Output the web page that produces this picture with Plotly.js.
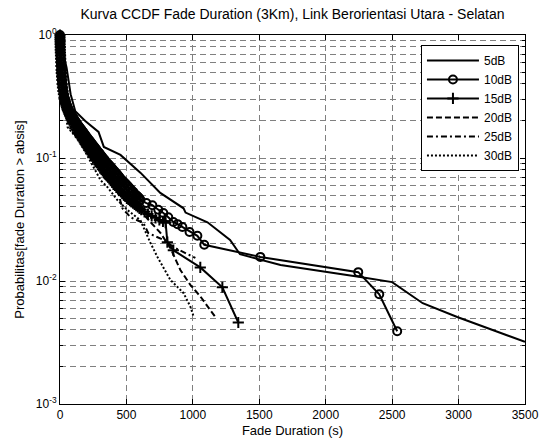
<!DOCTYPE html>
<html>
<head>
<meta charset="utf-8">
<script src="https://cdn.plot.ly/plotly-3.0.1.min.js"></script>
<style>html,body{margin:0;padding:0;background:#fff}#chart{width:540px;height:439px}</style>
</head>
<body>
<div id="chart"></div>
<script>
// ---- data ----
const seriesNames = ["5dB", "10dB", "15dB", "20dB", "25dB", "30dB"];

const x5  = [0, 5, 20, 50, 80, 115, 190, 290, 330, 455, 605, 755, 930, 945, 1110, 1185, 1280, 1355, 1660, 2260, 2500, 2730, 2990, 3500];
const y5  = [1, 0.9, 0.75, 0.54, 0.33, 0.24, 0.2, 0.163, 0.123, 0.106, 0.076, 0.052, 0.039, 0.036, 0.030, 0.026, 0.0216, 0.0165, 0.0135, 0.0108, 0.0098, 0.0066, 0.0051, 0.0032];

const x10 = [0,0,0,1,1,1,2,2,3,3, 4,5,5,6,7,8,9,10,11,12, 14,15,17,19,21,23,26,29,32,34, 36,38,40,42,45,47,50,53,56,59,
             62,66,70,74,78,82,86,90,95,100, 105,110,115,120,126,131,137,143,149,155, 161,167,174,180,187,193,200,207,214,221,
             228,235,242,249,257,264,272,279,287,295, 303,311,319,327,335,343,351,359,368,376, 385,393,402,411,420,429,438,447,456,465,
             475,484,494,503,513,522,532,542,552,562, 572,581,590,598,606,650,695,740,778,815, 853,885,921,975,1034,1086,1508,2245,2403,2538];
const y10 = [1,0.97,0.94,0.91,0.88,0.85,0.82,0.79,0.76,0.73, 0.70,0.67,0.64,0.61,0.58,0.55,0.52,0.50,0.48,0.46, 0.44,0.42,0.40,0.385,0.37,0.355,0.34,0.325,0.31,0.305,
             0.30,0.295,0.29,0.285,0.28,0.275,0.27,0.265,0.26,0.255, 0.25,0.245,0.24,0.236,0.232,0.228,0.224,0.22,0.216,0.212,
             0.208,0.204,0.2,0.196,0.192,0.188,0.184,0.18,0.177,0.173, 0.17,0.166,0.163,0.159,0.156,0.152,0.149,0.145,0.142,0.139,
             0.136,0.133,0.13,0.127,0.124,0.121,0.118,0.115,0.112,0.11, 0.107,0.104,0.102,0.099,0.097,0.094,0.092,0.09,0.088,0.086,
             0.084,0.082,0.08,0.078,0.076,0.074,0.072,0.07,0.068,0.066, 0.065,0.063,0.062,0.06,0.059,0.057,0.056,0.054,0.053,0.051,
             0.050,0.049,0.048,0.047,0.0455,0.043,0.0413,0.038,0.0357,0.033, 0.0302,0.029,0.0275,0.025,0.0233,0.0197,0.0157,0.0118,0.0078,0.0039];

const x15 = [0,0,0,1,1,2,2,3,4,5, 6,7,9,10,12,14,16,19,22,26, 30,32,35,37,40,43,46,49,53,56, 60,64,68,72,77,81,86,91,96,101,
             107,112,118,124,130,136,142,148,155,161, 168,175,182,189,196,203,211,218,226,234, 242,250,258,266,275,283,292,301,310,319,
             328,337,347,356,366,376,386,396,406,416, 427,437,448,459,470,481,492,503,515,526, 538,550,562,574,586,598,611,636,662,690,
             719,748,775,795,808,853,1056,1222,1342];
const y15 = [1,0.96,0.92,0.88,0.84,0.80,0.76,0.72,0.68,0.64, 0.60,0.56,0.52,0.49,0.46,0.43,0.40,0.375,0.35,0.33,
             0.31,0.302,0.295,0.288,0.28,0.273,0.266,0.259,0.252,0.246, 0.24,0.234,0.228,0.222,0.217,0.211,0.206,0.201,0.196,0.191,
             0.186,0.181,0.176,0.171,0.167,0.162,0.158,0.154,0.15,0.146, 0.142,0.138,0.134,0.13,0.127,0.123,0.12,0.116,0.113,0.11,
             0.107,0.104,0.101,0.098,0.095,0.092,0.089,0.086,0.084,0.081, 0.079,0.076,0.074,0.072,0.07,0.068,0.066,0.064,0.062,0.06,
             0.058,0.056,0.055,0.053,0.052,0.05,0.049,0.047,0.046,0.045, 0.044,0.043,0.042,0.041,0.040,0.039,0.038,0.0365,0.035,0.0338,
             0.0326,0.0314,0.0305,0.0298,0.0207,0.0178,0.0129,0.0089,0.0046];

const x20 = [0, 5, 15, 30, 60, 117, 229, 342, 455, 568, 680, 756, 831, 906, 981, 1056, 1169];
const y20 = [1, 0.8, 0.55, 0.38, 0.26, 0.176, 0.116, 0.077, 0.055, 0.0416, 0.0302, 0.0246, 0.0185, 0.0123, 0.0093, 0.0075, 0.0051];

const x25 = [0, 5, 15, 30, 50, 79, 177, 252, 327, 432, 470, 530, 628, 665, 778, 868, 1019];
const y25 = [1, 0.78, 0.52, 0.35, 0.24, 0.169, 0.133, 0.102, 0.07, 0.055, 0.039, 0.033, 0.0296, 0.0245, 0.0216, 0.0185, 0.0154];

const x30 = [0, 5, 15, 30, 45, 56, 154, 252, 305, 357, 432, 508, 605, 680, 733, 831, 929, 981, 1004];
const y30 = [1, 0.76, 0.5, 0.33, 0.22, 0.179, 0.133, 0.084, 0.066, 0.058, 0.0455, 0.0377, 0.0312, 0.0205, 0.0157, 0.0102, 0.008, 0.0062, 0.0052];

const yMajor = [0.001, 0.01, 0.1, 1];
const yMajorText = ["10<sup>-3</sup>", "10<sup>-2</sup>", "10<sup>-1</sup>", "10<sup>0</sup>"];
const yMinor = [0.002,0.003,0.004,0.005,0.006,0.007,0.008,0.009,0.02,0.03,0.04,0.05,0.06,0.07,0.08,0.09,0.2,0.3,0.4,0.5,0.6,0.7,0.8,0.9];
const xTicks = [0, 500, 1000, 1500, 2000, 2500, 3000, 3500];

// ---- traces ----
const lw = 2;
const traces = [
  {x: x5, y: y5, name: seriesNames[0], mode: "lines", line: {color: "#000", width: lw}},
  {x: x10, y: y10, name: seriesNames[1], mode: "lines+markers", cliponaxis: false, line: {color: "#000", width: lw},
   marker: {symbol: "circle-open", size: 8, color: "#000", line: {width: 2, color: "#000"}}},
  {x: x15, y: y15, name: seriesNames[2], mode: "lines+markers", cliponaxis: false, line: {color: "#000", width: lw},
   marker: {symbol: "cross-thin-open", size: 8, color: "#000", line: {width: 2, color: "#000"}}},
  {x: x20, y: y20, name: seriesNames[3], mode: "lines", line: {color: "#000", width: lw, dash: "6px,3px"}},
  {x: x25, y: y25, name: seriesNames[4], mode: "lines", line: {color: "#000", width: lw, dash: "6px,3px,2px,3px"}},
  {x: x30, y: y30, name: seriesNames[5], mode: "lines", line: {color: "#000", width: lw, dash: "2px,2px"}}
];

const fam = "Liberation Sans, Arial, sans-serif";
const tickFont = {family: fam, size: 12, color: "#000"};
const titleFont = {family: fam, size: 13, color: "#000"};
const gridColor = "#808080";

const layout = {
  width: 540, height: 439,
  margin: {l: 59.5, r: 15, t: 35, b: 35},
  paper_bgcolor: "#fff", plot_bgcolor: "#fff",
  font: tickFont,
  showlegend: true,
  title: {text: "Kurva CCDF Fade Duration (3Km), Link Berorientasi Utara - Selatan",
          font: {family: fam, size: 14, color: "#000"},
          x: 0.5, xref: "paper", y: 1 - 14/439, yref: "container", yanchor: "middle"},
  xaxis: {
    range: [0, 3500], tickvals: xTicks, ticktext: xTicks.map(String),
    showgrid: true, gridcolor: gridColor, gridwidth: 1, griddash: "6px,4px",
    zeroline: false, showline: true, linecolor: "#000", linewidth: 1, mirror: "ticks",
    ticks: "inside", ticklen: 5, tickcolor: "#000", tickfont: tickFont,
    title: {text: "Fade Duration (s)", font: titleFont, standoff: 4}, automargin: false
  },
  yaxis: {
    type: "log", range: [-3, 0], tickvals: yMajor, ticktext: yMajorText,
    showgrid: true, gridcolor: gridColor, gridwidth: 1, griddash: "6px,4px",
    zeroline: false, showline: true, linecolor: "#000", linewidth: 1, mirror: "ticks",
    ticks: "inside", ticklen: 5, tickcolor: "#000", tickfont: tickFont,
    minor: {tickvals: yMinor, ticks: "inside", ticklen: 3, tickcolor: "#000",
            showgrid: true, gridcolor: gridColor, gridwidth: 1, griddash: "6px,4px"},
    title: {text: "Probabilitas[fade Duration > absis]", font: titleFont, standoff: 8}, automargin: false
  },
  legend: {
    x: 0.987, xanchor: "right", y: 0.973, yanchor: "top",
    bgcolor: "#fff", bordercolor: "#000", borderwidth: 1,
    font: {family: fam, size: 12, color: "#000"},
    tracegroupgap: 0, itemwidth: 52
  }
};

Plotly.newPlot("chart", traces, layout, {displayModeBar: false, staticPlot: true});
</script>
</body>
</html>
